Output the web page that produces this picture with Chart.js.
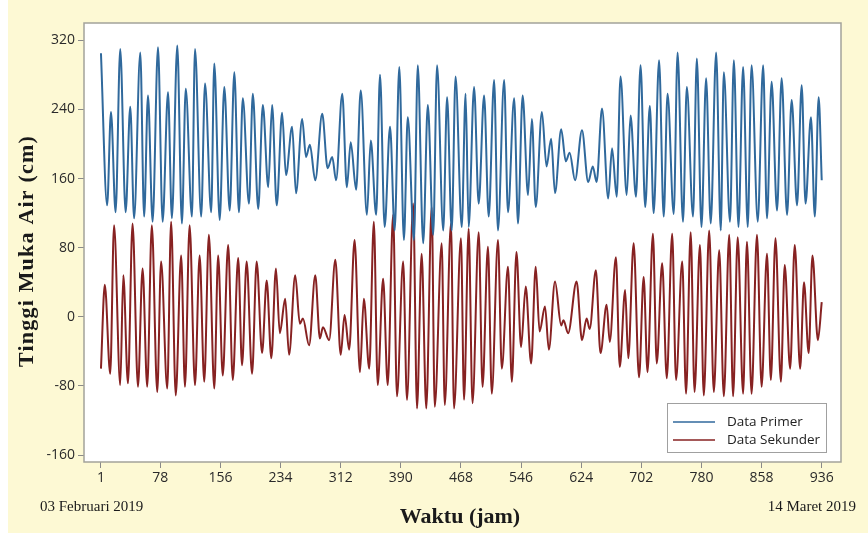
<!DOCTYPE html>
<html>
<head>
<meta charset="utf-8">
<script src="https://cdn.jsdelivr.net/npm/chart.js@4.4.1/dist/chart.umd.min.js"></script>
<style>
html, body { margin: 0; padding: 0; background: #fdf9d4; }
#wrap { position: relative; width: 868px; height: 533px; }
</style>
</head>
<body>
<div id="wrap"><canvas id="tideChart" width="868" height="533"></canvas></div>
<script>
// Titik balik (puncak & lembah) pasang surut
const primerJam = [1,9,14,20,26,33,39,44,52,57,62,68,75,81,88,93,100,106,111,119,
    123,131,136,144,148,155,161,168,174,180,185,193,198,205,211,218,223,229,236,241,
    249,254,262,267,272,279,288,295,301,306,314,320,325,332,338,346,351,358,363,369,
    376,382,388,394,399,407,412,419,425,432,437,445,450,456,461,469,474,478,485,491,
    498,504,511,516,524,529,537,542,548,555,560,565,573,579,585,590,598,604,609,616,
    625,633,639,644,651,659,664,670,675,683,688,695,701,707,713,718,725,731,736,744,
    749,756,761,769,774,780,786,792,799,805,809,817,822,828,834,840,845,853,860,865,
    871,878,884,891,897,904,910,915,922,927,932,936];
const primerNilai = [305,129,237,121,310,121,243,114,306,116,256,110,312,110,260,114,314,108,264,116,
    310,116,270,121,293,112,266,123,283,121,253,131,258,125,245,150,245,129,236,164,
    220,143,229,185,199,158,235,172,185,158,258,150,202,147,262,118,204,118,280,104,
    220,100,289,89,231,89,291,85,245,95,291,100,254,100,278,104,258,104,266,131,
    256,116,274,100,274,121,253,108,256,141,229,127,237,174,206,143,217,180,190,158,
    216,156,174,156,241,137,195,139,278,141,233,139,291,127,244,120,297,116,258,119,
    306,110,266,116,299,104,276,108,306,100,283,110,297,104,289,104,291,110,291,114,
    272,123,276,118,251,129,268,131,231,116,254,158];

const sekunderJam = [1,6,13,18,26,30,36,42,49,55,61,67,74,79,87,92,98,105,110,116,
    123,129,135,141,148,153,159,166,172,179,184,190,197,203,210,216,222,228,233,240,
    245,253,259,263,271,279,285,289,297,305,312,317,323,330,337,342,349,355,360,367,
    373,380,385,393,398,406,411,417,423,430,434,443,447,455,459,468,472,478,483,491,
    496,503,508,516,521,529,534,540,546,552,559,565,570,577,582,590,598,601,607,618,
    625,631,635,643,649,657,661,669,674,681,685,692,699,705,710,717,722,729,735,742,
    747,755,760,766,771,778,783,790,796,803,809,816,821,827,834,839,845,852,858,865,
    870,876,883,888,895,901,908,913,919,924,931,936];
const sekunderNilai = [-60,37,-66,106,-79,48,-77,108,-81,56,-81,106,-87,64,-83,110,-91,71,-81,106,
    -79,71,-75,95,-83,71,-68,83,-73,68,-56,64,-66,64,-42,42,-48,56,-19,21,
    -44,48,-8,-2,-33,48,-25,-12,-27,66,-44,2,-38,89,-64,21,-60,110,-79,44,
    -79,118,-92,64,-96,131,-106,73,-106,127,-104,85,-102,108,-106,91,-96,102,-100,98,
    -81,81,-89,89,-60,58,-75,75,-35,35,-54,58,-17,12,-38,41,-10,-4,-19,41,
    -27,-2,-14,54,-42,14,-29,69,-58,31,-48,85,-70,46,-64,96,-54,62,-71,96,
    -73,64,-89,98,-87,83,-91,100,-87,77,-92,95,-92,92,-89,87,-89,95,-81,73,
    -73,91,-75,60,-60,83,-60,40,-42,71,-27,17];

const xTicks = [1, 78, 156, 234, 312, 390, 468, 546, 624, 702, 780, 858, 936];
const yTicks = [-160, -80, 0, 80, 160, 240, 320];
const seriesLabels = ['Data Primer', 'Data Sekunder'];
const seriesColors = ['#30699c', '#872222'];

function toPoints(jam, nilai) {
    return jam.map((h, i) => ({ x: h, y: nilai[i] }));
}

// frame, judul sumbu, tanggal dan legenda
const framePlugin = {
    id: 'frame',
    beforeDraw(chart) {
        const { ctx, chartArea: a } = chart;
        ctx.save();
        ctx.fillStyle = '#fdf9d4';
        ctx.fillRect(0, 0, chart.width, chart.height);
        ctx.fillStyle = '#ffffff';
        ctx.fillRect(0, 0, 8, chart.height);
        ctx.fillRect(a.left, a.top, a.right - a.left, a.bottom - a.top);
        ctx.restore();
    },
    afterDraw(chart) {
        const { ctx, chartArea: a } = chart;
        ctx.save();
        ctx.strokeStyle = '#a3a39a';
        ctx.lineWidth = 1.5;
        ctx.strokeRect(a.left, a.top, a.right - a.left, a.bottom - a.top);

        ctx.fillStyle = '#1a1a1a';
        ctx.font = 'bold 22px "Liberation Serif"';
        ctx.textAlign = 'center';
        ctx.textBaseline = 'middle';
        ctx.fillText('Waktu (jam)', 460, 517);

        ctx.save();
        ctx.translate(27, 251);
        ctx.rotate(-Math.PI / 2);
        ctx.letterSpacing = '1.2px';
        ctx.fillText('Tinggi Muka Air (cm)', 0, 0);
        ctx.restore();

        ctx.font = '15px "Liberation Serif"';
        ctx.textAlign = 'left';
        ctx.fillText('03 Februari 2019', 40, 507);
        ctx.textAlign = 'right';
        ctx.fillText('14 Maret 2019', 856, 507);

        // legenda
        const bx = 667, by = 403, bw = 159, bh = 49;
        ctx.fillStyle = '#ffffff';
        ctx.fillRect(bx, by, bw, bh);
        ctx.strokeStyle = '#a0a0a0';
        ctx.lineWidth = 1;
        ctx.strokeRect(bx + 0.5, by + 0.5, bw, bh);
        ctx.font = '13.5px "Open Sans"';
        ctx.textAlign = 'left';
        seriesLabels.forEach((label, i) => {
            const y = by + 19 + i * 18;
            ctx.strokeStyle = seriesColors[i];
            ctx.lineWidth = 1.5;
            ctx.beginPath();
            ctx.moveTo(bx + 6, y);
            ctx.lineTo(bx + 48, y);
            ctx.stroke();
            ctx.fillStyle = '#222222';
            ctx.fillText(label, bx + 60, y);
        });
        ctx.restore();
    }
};

const ctx = document.getElementById('tideChart').getContext('2d');
new Chart(ctx, {
    type: 'line',
    data: {
        datasets: [{
            label: seriesLabels[0],
            data: toPoints(primerJam, primerNilai),
            borderColor: seriesColors[0],
            borderWidth: 2,
            pointRadius: 0,
            cubicInterpolationMode: 'monotone',
            fill: false
        }, {
            label: seriesLabels[1],
            data: toPoints(sekunderJam, sekunderNilai),
            borderColor: seriesColors[1],
            borderWidth: 2,
            pointRadius: 0,
            cubicInterpolationMode: 'monotone',
            fill: false
        }]
    },
    options: {
        responsive: false,
        animation: false,
        layout: { padding: { left: 0, top: 23, right: 27, bottom: 0 } },
        plugins: { legend: { display: false }, tooltip: { enabled: false } },
        scales: {
            x: {
                type: 'linear',
                min: -21,
                max: 961,
                afterBuildTicks: s => { s.ticks = xTicks.map(v => ({ value: v })); },
                afterFit: s => { s.height = 71; },
                grid: { drawOnChartArea: false, drawTicks: true, tickLength: 6, color: '#8a8a8a' },
                border: { display: false },
                ticks: {
                    autoSkip: false, maxRotation: 0, padding: 2,
                    color: '#2a2a2a', font: { family: 'Open Sans', size: 14 }
                }
            },
            y: {
                min: -168,
                max: 340,
                afterBuildTicks: s => { s.ticks = yTicks.map(v => ({ value: v })); },
                afterFit: s => { s.width = 84; },
                grid: { drawOnChartArea: false, drawTicks: true, tickLength: 6, color: '#8a8a8a' },
                border: { display: false },
                ticks: {
                    padding: 3,
                    color: '#2a2a2a', font: { family: 'Open Sans', size: 14 }
                }
            }
        }
    },
    plugins: [framePlugin]
});
</script>
</body>
</html>
